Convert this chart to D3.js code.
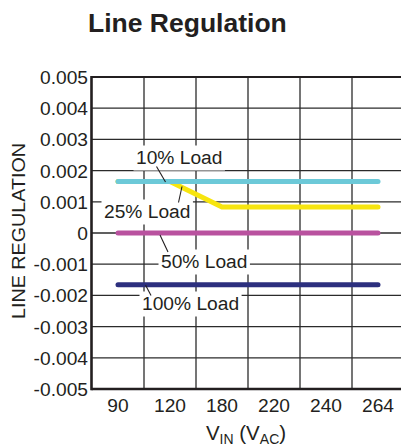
<!DOCTYPE html>
<html><head><meta charset="utf-8">
<script src="https://cdn.jsdelivr.net/npm/d3@7"></script>
<style>
html,body{margin:0;padding:0;background:#fff;}
svg{display:block;font-family:"Liberation Sans",Arial,Helvetica,sans-serif;}
</style></head>
<body>
<svg id="chart" width="401" height="446"></svg>
<script>
// ---- data ----
const categories = ["90", "120", "180", "220", "240", "264"];
const load10 = [0.00165, 0.00165, 0.00165, 0.00165, 0.00165, 0.00165];
const load25 = [0.00165, 0.00165, 0.00083, 0.00083, 0.00083, 0.00083];
const load50 = [0, 0, 0, 0, 0, 0];
const load100 = [-0.00166, -0.00166, -0.00166, -0.00166, -0.00166, -0.00166];
const yTicks = [-0.005, -0.004, -0.003, -0.002, -0.001, 0, 0.001, 0.002, 0.003, 0.004, 0.005];
const yTickLabels = ["-0.005", "-0.004", "-0.003", "-0.002", "-0.001", "0", "0.001", "0.002", "0.003", "0.004", "0.005"];
const seriesNames = ["25% Load", "10% Load", "50% Load", "100% Load"];
const titleText = "Line Regulation";
const yTitle = "LINE REGULATION";

(function () {
// ---- layout ----
const svg = d3.select("#chart");
const pLeft = 92, pTop = 77, pBottom = 389;
const bandW = 52;
const x = d3.scaleBand().domain(categories).range([pLeft, pLeft + bandW * categories.length]).padding(0);
const y = d3.scaleLinear().domain([-0.005, 0.005]).range([pBottom, pTop]);
const xc = c => x(c) + x.bandwidth() / 2;

const gridColor = "#2b2b2b";
const ink = "#231f20";
const fs = 19.2;

// title
svg.append("text").attr("x", 88).attr("y", 32)
  .attr("font-size", 26.5).attr("font-weight", "bold").attr("fill", ink)
  .text(titleText);

// horizontal gridlines
svg.append("g").selectAll("line").data(yTicks.filter(v => v > -0.005 && v < 0.005)).join("line")
  .attr("x1", pLeft).attr("x2", 401)
  .attr("y1", d => y(d)).attr("y2", d => y(d))
  .attr("stroke", gridColor).attr("stroke-width", 1.3);

// vertical gridlines (band boundaries)
svg.append("g").selectAll("line").data(categories.slice(1)).join("line")
  .attr("x1", d => x(d)).attr("x2", d => x(d))
  .attr("y1", pTop).attr("y2", pBottom)
  .attr("stroke", gridColor).attr("stroke-width", 1.3);

// y tick labels
svg.append("g").selectAll("text").data(yTicks).join("text")
  .attr("x", 88).attr("y", d => y(d)).attr("dy", "0.36em")
  .attr("text-anchor", "end").attr("font-size", fs).attr("fill", ink)
  .text((d, i) => yTickLabels[i]);

// x tick labels
svg.append("g").selectAll("text").data(categories).join("text")
  .attr("x", d => xc(d)).attr("y", 412)
  .attr("text-anchor", "middle").attr("font-size", fs).attr("fill", ink)
  .text(d => d);

// y axis title
svg.append("text").attr("transform", "translate(24.5,231) rotate(-90)")
  .attr("text-anchor", "middle").attr("font-size", 17.5).attr("fill", ink)
  .attr("textLength", 176).attr("lengthAdjust", "spacingAndGlyphs")
  .text(yTitle);

// x axis title with subscripts
const xt = svg.append("text").attr("x", 246).attr("y", 440)
  .attr("text-anchor", "middle").attr("font-size", 20.5).attr("fill", ink);
xt.append("tspan").text("V");
xt.append("tspan").attr("font-size", 14).attr("dy", 4).text("IN");
xt.append("tspan").attr("dy", -4).text(" (V");
xt.append("tspan").attr("font-size", 14).attr("dy", 4).text("AC");
xt.append("tspan").attr("dy", -4).text(")");

// annotation labels (white boxes hide gridlines)
const ann = [
  {name: seriesNames[1], tx: 136, ty: 164, lx1: 156.5, ly1: 166.5, lx2: 165.5, ly2: 182},
  {name: seriesNames[0], tx: 104, ty: 218, lx1: 182, ly1: 186.5, lx2: 178.5, ly2: 202.5},
  {name: seriesNames[2], tx: 161, ty: 268, lx1: 160, ly1: 235, lx2: 168, ly2: 252},
  {name: seriesNames[3], tx: 142, ty: 310, lx1: 145.5, ly1: 285, lx2: 151, ly2: 295.5}
];
const annG = svg.append("g");
ann.forEach(a => {
  const g = annG.append("g");
  const r = g.append("rect").attr("fill", "#fff");
  const t = g.append("text").attr("x", a.tx).attr("y", a.ty)
    .attr("font-size", fs).attr("fill", ink).text(a.name);
  const bb = t.node().getBBox();
  r.attr("x", bb.x - 2.5).attr("width", bb.width + 5)
   .attr("y", a.ty - 18.5).attr("height", 25);
});

// data lines
const line = d3.line().x((d, i) => xc(categories[i])).y(d => y(d));
const series = [
  {vals: load25, color: "#f7e50f"},
  {vals: load10, color: "#6cc9d8"},
  {vals: load50, color: "#b9529f"},
  {vals: load100, color: "#2c2f7e"}
];
svg.append("g").selectAll("path").data(series).join("path")
  .attr("d", d => line(d.vals))
  .attr("fill", "none").attr("stroke", d => d.color)
  .attr("stroke-width", 5).attr("stroke-linecap", "round").attr("stroke-linejoin", "round");

// leader lines
annG.raise();
ann.forEach(a => {
  svg.append("line").attr("x1", a.lx1).attr("y1", a.ly1).attr("x2", a.lx2).attr("y2", a.ly2)
    .attr("stroke", ink).attr("stroke-width", 1.1);
});

// axes frame
svg.append("line").attr("x1", pLeft - 0.5).attr("x2", 401).attr("y1", pTop).attr("y2", pTop)
  .attr("stroke", ink).attr("stroke-width", 2.2);
svg.append("line").attr("x1", pLeft - 0.5).attr("x2", 401).attr("y1", pBottom).attr("y2", pBottom)
  .attr("stroke", ink).attr("stroke-width", 2.6);
svg.append("line").attr("x1", pLeft - 0.5).attr("x2", pLeft - 0.5).attr("y1", pTop - 1).attr("y2", pBottom + 1.3)
  .attr("stroke", ink).attr("stroke-width", 2.6);
})();
</script>
</body></html>
